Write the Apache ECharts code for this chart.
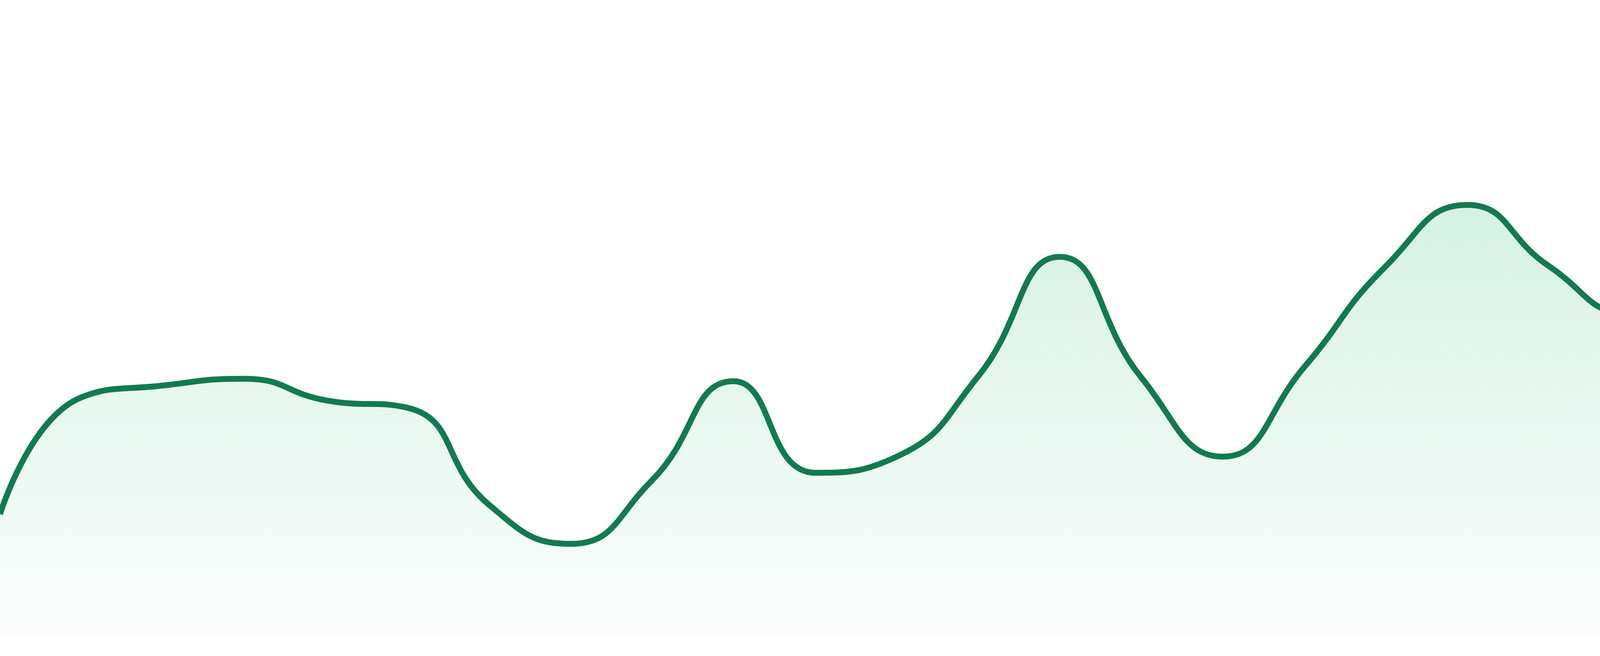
<!DOCTYPE html>
<html><head><meta charset="UTF-8">
<title>ECharts</title>
<script src="https://cdn.jsdelivr.net/npm/echarts@6/dist/echarts.min.js"></script>
<style>
  html, body { margin: 0; padding: 0; background: #fff; }
  #g1 { width: 4800px; height: 1680px; }
</style>
</head>
<body>
<div id="g1"></div>
<script type="text/javascript">
// 24 points
var days = ['1', '2', '3', '4', '5', '6', '7', '8', '9', '10', '11', '12',
            '13', '14', '15', '16', '17', '18', '19', '20', '21', '22', '23', '24'];
var values = [19.9, 38.8, 40.7, 41.8, 38.3, 37.1, 21.4, 15.1, 25.4, 41.4, 26.6, 29.2,
              42.2, 61.5, 42.0, 29.2, 43.7, 60.0, 69.9, 60.0, 52.3, 59.1, 90.1, 82.1];
var yMin = 0;
var yMax = 100;

var option = {
    animation: false,
    grid: { left: 0, right: 0, top: 48, bottom: 48 },
    xAxis: {
        type: 'category',
        data: days,
        boundaryGap: false,
        show: false
    },
    yAxis: {
        type: 'value',
        min: yMin,
        max: yMax,
        show: false,
        splitLine: { show: false }
    },
    series: [{
        type: 'line',
        data: values,
        smooth: true,
        showSymbol: false,
        lineStyle: { color: '#127a50', width: 15 },
        areaStyle: {
            color: new echarts.graphic.LinearGradient(0, 0, 0, 1, [
                { offset: 0, color: '#b3e6d0' },
                { offset: 1, color: '#f9fcfb' }
            ])
        }
    }]
};

var myChart = echarts.init(document.getElementById('g1'));
myChart.setOption(option);
</script>
</body>
</html>
